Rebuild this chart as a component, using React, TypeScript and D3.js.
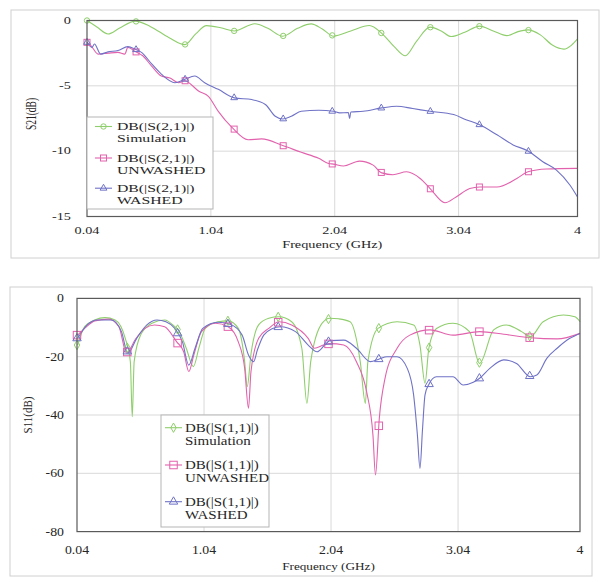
import React from 'react';
import * as d3 from 'd3';

type Pt = [number, number];

const freqTicks = [0.04, 1.04, 2.04, 3.04, 4];
const freqTickLabels = ['0.04', '1.04', '2.04', '3.04', '4'];
const s21Ticks = [0, -5, -10, -15];
const s11Ticks = [0, -20, -40, -60, -80];
const markerFreqs = [0.04, 0.436, 0.832, 1.228, 1.624, 2.02, 2.416, 2.812, 3.208, 3.604];
const seriesNames = ['Simulation', 'UNWASHED', 'WASHED'];

// S21 (dB)
const s21Sim: Pt[] = [
  [0.04, 0], [0.12, -0.5], [0.21, -1.03], [0.3, -0.6], [0.43, -0.05], [0.55, -0.45], [0.7, -1.3],
  [0.83, -1.85], [0.92, -1.0], [1.005, -0.39], [1.12, -0.55], [1.23, -0.8], [1.395, -0.25],
  [1.5, -0.6], [1.62, -1.2], [1.74, -0.6], [1.85, -0.26], [1.94, -0.65], [2.03, -1.2],
  [2.17, -0.8], [2.32, -0.38], [2.42, -0.98], [2.52, -2.0], [2.61, -2.7], [2.7, -1.6],
  [2.81, -0.51], [2.9, -0.8], [2.98, -1.23], [3.09, -0.9], [3.21, -0.43], [3.32, -0.8],
  [3.43, -1.16], [3.52, -0.85], [3.6, -0.72], [3.7, -1.1], [3.8, -1.9], [3.89, -2.19],
  [3.95, -1.9], [4.0, -1.41],
];
const s21Unwashed: Pt[] = [
  [0.04, -1.67], [0.07, -1.9], [0.13, -2.57], [0.21, -2.5], [0.29, -2.44], [0.345, -2.57],
  [0.37, -2.06], [0.43, -2.37], [0.49, -2.7], [0.56, -3.47], [0.64, -4.25], [0.71, -4.4],
  [0.78, -4.76], [0.83, -4.6], [0.88, -4.9], [0.94, -5.4], [1.02, -5.8], [1.1, -6.95],
  [1.21, -8.18], [1.34, -9.13], [1.45, -9.06], [1.62, -9.57], [1.77, -10.09], [1.91, -10.55],
  [1.99, -10.94], [2.03, -10.99], [2.11, -11.14], [2.24, -10.76], [2.35, -11.07], [2.42, -11.66],
  [2.51, -11.8], [2.62, -11.58], [2.73, -12.09], [2.81, -12.86], [2.93, -13.95], [3.02, -13.5],
  [3.13, -12.86], [3.21, -12.74], [3.35, -12.74], [3.51, -12.09], [3.6, -11.58], [3.75, -11.37],
  [4.0, -11.32],
];
const s21Washed: Pt[] = [
  [0.04, -1.67], [0.08, -2.06], [0.1, -1.8], [0.15, -2.57], [0.21, -2.4], [0.29, -2.3],
  [0.37, -2.0], [0.43, -2.2], [0.48, -2.44], [0.56, -3.3], [0.64, -4.1], [0.75, -4.76],
  [0.83, -4.5], [0.91, -4.25], [0.99, -4.76], [1.1, -5.27], [1.23, -5.92], [1.37, -6.05],
  [1.48, -6.43], [1.56, -7.33], [1.62, -7.54], [1.69, -7.33], [1.77, -6.95], [1.91, -6.87],
  [2.03, -6.95], [2.08, -7.07], [2.15, -7.05], [2.16, -7.5], [2.17, -7.0], [2.27, -6.95],
  [2.42, -6.69], [2.54, -6.56], [2.67, -6.74], [2.81, -6.95], [3.0, -7.2], [3.1, -7.59],
  [3.21, -7.98], [3.35, -8.75], [3.48, -9.52], [3.6, -9.98], [3.72, -10.81], [3.83, -11.45],
  [3.94, -12.61], [4.0, -13.51],
];

// S11 (dB)
const s11Sim: Pt[] = [
  [0.045, -16], [0.1, -9.7], [0.18, -7.4], [0.26, -6.6], [0.34, -7.4], [0.42, -13.7],
  [0.46, -21.7], [0.475, -40.6], [0.49, -21.7], [0.54, -12.6], [0.63, -8.5], [0.73, -7.4],
  [0.81, -9.7], [0.84, -11], [0.9, -17.1], [0.956, -23.4], [1.0, -17], [1.05, -10.3],
  [1.15, -8.0], [1.23, -7.7], [1.31, -10.3], [1.36, -21.7], [1.38, -30.3], [1.41, -19],
  [1.47, -9.1], [1.55, -6.8], [1.63, -6.3], [1.73, -8], [1.81, -17.1], [1.85, -36],
  [1.88, -21.7], [1.97, -8.5], [2.03, -6.8], [2.1, -7], [2.19, -8], [2.27, -21.7], [2.31, -36],
  [2.33, -21.7], [2.41, -10.3], [2.56, -8], [2.69, -9.1], [2.74, -16], [2.78, -29.1],
  [2.81, -17.1], [2.87, -10.3], [3.0, -8.5], [3.13, -11.4], [3.21, -22.3], [3.32, -10.8],
  [3.42, -9.1], [3.54, -11.4], [3.61, -13.1], [3.71, -8], [3.87, -5.7], [3.96, -6.3], [4.0, -8],
];
const s11Unwashed: Pt[] = [
  [0.045, -12.6], [0.1, -10.3], [0.18, -7.7], [0.29, -7.1], [0.37, -9.7], [0.43, -18.8],
  [0.5, -14], [0.575, -10.3], [0.65, -9.1], [0.73, -9.7], [0.825, -14.9], [0.88, -18.3],
  [0.92, -25.1], [0.96, -19.4], [1.02, -11.4], [1.13, -8.5], [1.23, -9.7], [1.31, -14.9],
  [1.36, -24], [1.39, -37.7], [1.41, -25], [1.47, -13.7], [1.55, -10.3], [1.63, -8],
  [1.73, -9.1], [1.86, -13.7], [1.91, -17.1], [1.98, -16], [2.03, -15.5], [2.14, -16],
  [2.24, -21.7], [2.32, -32], [2.37, -46.9], [2.39, -60.6], [2.42, -41.1], [2.465, -27.4],
  [2.56, -17.1], [2.66, -12.6], [2.82, -10.8], [3.0, -12.6], [3.21, -11.4], [3.4, -12.3],
  [3.61, -13.5], [3.82, -13.9], [4.0, -12],
];
const s11Washed: Pt[] = [
  [0.045, -13.7], [0.12, -9.1], [0.2, -7.4], [0.31, -7.4], [0.39, -11.4], [0.44, -18.8],
  [0.51, -13.7], [0.59, -9.1], [0.67, -7.4], [0.74, -8], [0.81, -10.3], [0.87, -14.9],
  [0.92, -22.9], [0.97, -17], [1.03, -10.3], [1.15, -8.2], [1.245, -8.9], [1.34, -12.6],
  [1.39, -19.4], [1.43, -21.7], [1.46, -17.7], [1.51, -12.6], [1.58, -10.3], [1.64, -9.7],
  [1.76, -11.4], [1.86, -16], [1.93, -18.3], [1.99, -16], [2.03, -14.5], [2.14, -14.3],
  [2.24, -17.1], [2.35, -21.7], [2.42, -20.8], [2.48, -20], [2.56, -20], [2.64, -24],
  [2.69, -33.1], [2.72, -46.9], [2.74, -58.3], [2.76, -45], [2.78, -33.1], [2.81, -29.5],
  [2.87, -26.9], [3.0, -26.9], [3.08, -29.7], [3.16, -28.8], [3.21, -27.4], [3.29, -24],
  [3.4, -21.1], [3.5, -22.3], [3.61, -26.9], [3.66, -26.3], [3.74, -20.5], [3.82, -17.1],
  [3.92, -13.7], [4.0, -12],
];

const COLORS = ['#8fce6c', '#e262ad', '#6f72c6'];
const FONT = '"Liberation Serif", "Times New Roman", serif';

function valueAt(data: Pt[], f: number): number {
  if (f <= data[0][0]) return data[0][1];
  const i = d3.bisector((d: Pt) => d[0]).left(data, f);
  if (i >= data.length) return data[data.length - 1][1];
  const a = data[i - 1], b = data[i];
  const t = (f - a[0]) / (b[0] - a[0]);
  return a[1] + t * (b[1] - a[1]);
}

function Marker({ kind, x, y, color, s }: { kind: string; x: number; y: number; color: string; s: number }) {
  if (kind === 'circle') return <circle cx={x} cy={y} r={s * 0.45} fill="none" stroke={color} strokeWidth={1} />;
  if (kind === 'square') return <rect x={x - s / 2} y={y - s / 2} width={s} height={s} fill="none" stroke={color} strokeWidth={1} />;
  const type = kind === 'triangle' ? d3.symbolTriangle : d3.symbolDiamond;
  const size = kind === 'triangle' ? s * s * 0.55 : s * s * 0.45;
  const p = d3.symbol().type(type).size(size)() as string;
  return <path d={p} transform={`translate(${x},${y})`} fill="none" stroke={color} strokeWidth={1} />;
}

function T({ x, y, sx, size, anchor = 'start', rot = false, children }: any) {
  return (
    <text
      transform={`translate(${x},${y}) scale(${sx},1)${rot ? ' rotate(-90)' : ''}`}
      fontSize={size}
      fontFamily={FONT}
      textAnchor={anchor}
      fill="#262626"
    >
      {children}
    </text>
  );
}

type Cfg = {
  frame: [number, number, number, number];
  plot: { l: number; r: number; t: number; b: number };
  yDomain: [number, number];
  yTicks: number[];
  series: Pt[][];
  markers: string[];
  markerSize: number;
  yLabel: string;
  sParam: string;
  sx: number;
  tickSize: number;
  titleSize: number;
  legSize: number;
  yLabelPos: [number, number];
  yTickRight: number;
  yTickDy: number;
  xTickY: number;
  xTitleY: number;
  legend: { x: number; y: number; w: number; h: number; symX0: number; symX1: number; textX: number; rows: number[]; lineGap: number; symDy: number };
};

function Chart({ c }: { c: Cfg }) {
  const x = d3.scaleLinear().domain([0.04, 4]).range([c.plot.l, c.plot.r]);
  const y = d3.scaleLinear().domain(c.yDomain).range([c.plot.b, c.plot.t]);
  const line = d3.line<Pt>().x(d => x(d[0])).y(d => y(d[1])).curve(d3.curveMonotoneX);
  const L = c.legend;
  return (
    <g>
      <rect x={c.frame[0]} y={c.frame[1]} width={c.frame[2]} height={c.frame[3]} fill="#fff" stroke="#d0d0d0" strokeWidth={1} />
      {/* grid */}
      {c.yTicks.slice(1, -1).map(t => (
        <line key={'gy' + t} x1={c.plot.l} x2={c.plot.r} y1={y(t)} y2={y(t)} stroke="#d9d9d9" strokeWidth={1} />
      ))}
      {freqTicks.slice(1, -1).map(t => (
        <line key={'gx' + t} x1={x(t)} x2={x(t)} y1={c.plot.t} y2={c.plot.b} stroke="#d9d9d9" strokeWidth={1} />
      ))}
      {/* series */}
      <g>
        {c.series.map((s, i) => (
          <path key={'s' + i} d={line(s) as string} fill="none" stroke={COLORS[i]} strokeWidth={1.1} />
        ))}
        {c.series.map((s, i) =>
          markerFreqs.map((f, k) => (
            <Marker key={'m' + i + '_' + k} kind={c.markers[i]} x={x(f)} y={y(valueAt(s, f))} color={COLORS[i]} s={c.markerSize} />
          ))
        )}
      </g>
      {/* plot border */}
      <rect x={c.plot.l} y={c.plot.t} width={c.plot.r - c.plot.l} height={c.plot.b - c.plot.t} fill="none" stroke="#5a5a5a" strokeWidth={1.2} />
      {/* y ticks */}
      {c.yTicks.map(t => (
        <T key={'yt' + t} x={c.yTickRight} y={y(t) + c.yTickDy} sx={c.sx} size={c.tickSize} anchor="end">{String(t)}</T>
      ))}
      {freqTicks.map((t, i) => (
        <T key={'xt' + t} x={x(t)} y={c.xTickY} sx={c.sx} size={c.tickSize} anchor="middle">{freqTickLabels[i]}</T>
      ))}
      <T x={(c.plot.l + c.plot.r) / 2} y={c.xTitleY} sx={c.sx} size={c.titleSize} anchor="middle">Frequency (GHz)</T>
      <T x={c.yLabelPos[0]} y={c.yLabelPos[1]} sx={c.sx} size={c.titleSize} anchor="middle" rot>{c.yLabel}</T>
      {/* legend */}
      <rect x={L.x} y={L.y} width={L.w} height={L.h} fill="#fff" stroke="#b5b5b5" strokeWidth={1} />
      {seriesNames.map((n, i) => (
        <g key={'lg' + i}>
          <line x1={L.symX0} x2={L.symX1} y1={L.rows[i] + L.symDy} y2={L.rows[i] + L.symDy} stroke={COLORS[i]} strokeWidth={1.1} />
          <Marker kind={c.markers[i]} x={(L.symX0 + L.symX1) / 2} y={L.rows[i] + L.symDy} color={COLORS[i]} s={c.markerSize} />
          <T x={L.textX} y={L.rows[i]} sx={c.sx} size={c.legSize}>{`DB(|${c.sParam}|)`}</T>
          <T x={L.textX} y={L.rows[i] + L.lineGap} sx={c.sx} size={c.legSize}>{n}</T>
        </g>
      ))}
    </g>
  );
}

const topCfg: Cfg = {
  frame: [11, 10, 588, 248],
  plot: { l: 87, r: 577.5, t: 20.5, b: 216.5 },
  yDomain: [-15, 0],
  yTicks: s21Ticks,
  series: [s21Sim, s21Unwashed, s21Washed],
  markers: ['circle', 'square', 'triangle'],
  markerSize: 6,
  yLabel: 'S21(dB)',
  sParam: 'S(2,1)',
  sx: 1.5,
  tickSize: 9.5,
  titleSize: 9.5,
  legSize: 10.5,
  yLabelPos: [36, 114],
  yTickRight: 71,
  yTickDy: 3,
  xTickY: 233.5,
  xTitleY: 247.5,
  legend: { x: 87, y: 117, w: 126, h: 92, symX0: 95, symX1: 112, textX: 117, rows: [130, 161.5, 191.7], lineGap: 12, symDy: -3.5 },
};

const botCfg: Cfg = {
  frame: [10, 287, 582, 289],
  plot: { l: 77, r: 580, t: 298.4, b: 531.6 },
  yDomain: [-80, 0],
  yTicks: s11Ticks,
  series: [s11Sim, s11Unwashed, s11Washed],
  markers: ['diamond', 'square', 'triangle'],
  markerSize: 7.5,
  yLabel: 'S11(dB)',
  sParam: 'S(1,1)',
  sx: 1.2,
  tickSize: 11.5,
  titleSize: 11,
  legSize: 12.5,
  yLabelPos: [32, 415],
  yTickRight: 64,
  yTickDy: 4,
  xTickY: 554,
  xTitleY: 569.5,
  legend: { x: 161, y: 415, w: 108, h: 112, symX0: 165, symX1: 182, textX: 185, rows: [431.7, 469, 505.7], lineGap: 13.3, symDy: -4 },
};

export default function App() {
  return (
    <svg width={608} height={578} viewBox="0 0 608 578" style={{ position: 'absolute', left: 0, top: 0, display: 'block', background: '#fff' }}>
      <rect x={0} y={0} width={608} height={578} fill="#fff" />
      <Chart c={topCfg} />
      <Chart c={botCfg} />
    </svg>
  );
}
